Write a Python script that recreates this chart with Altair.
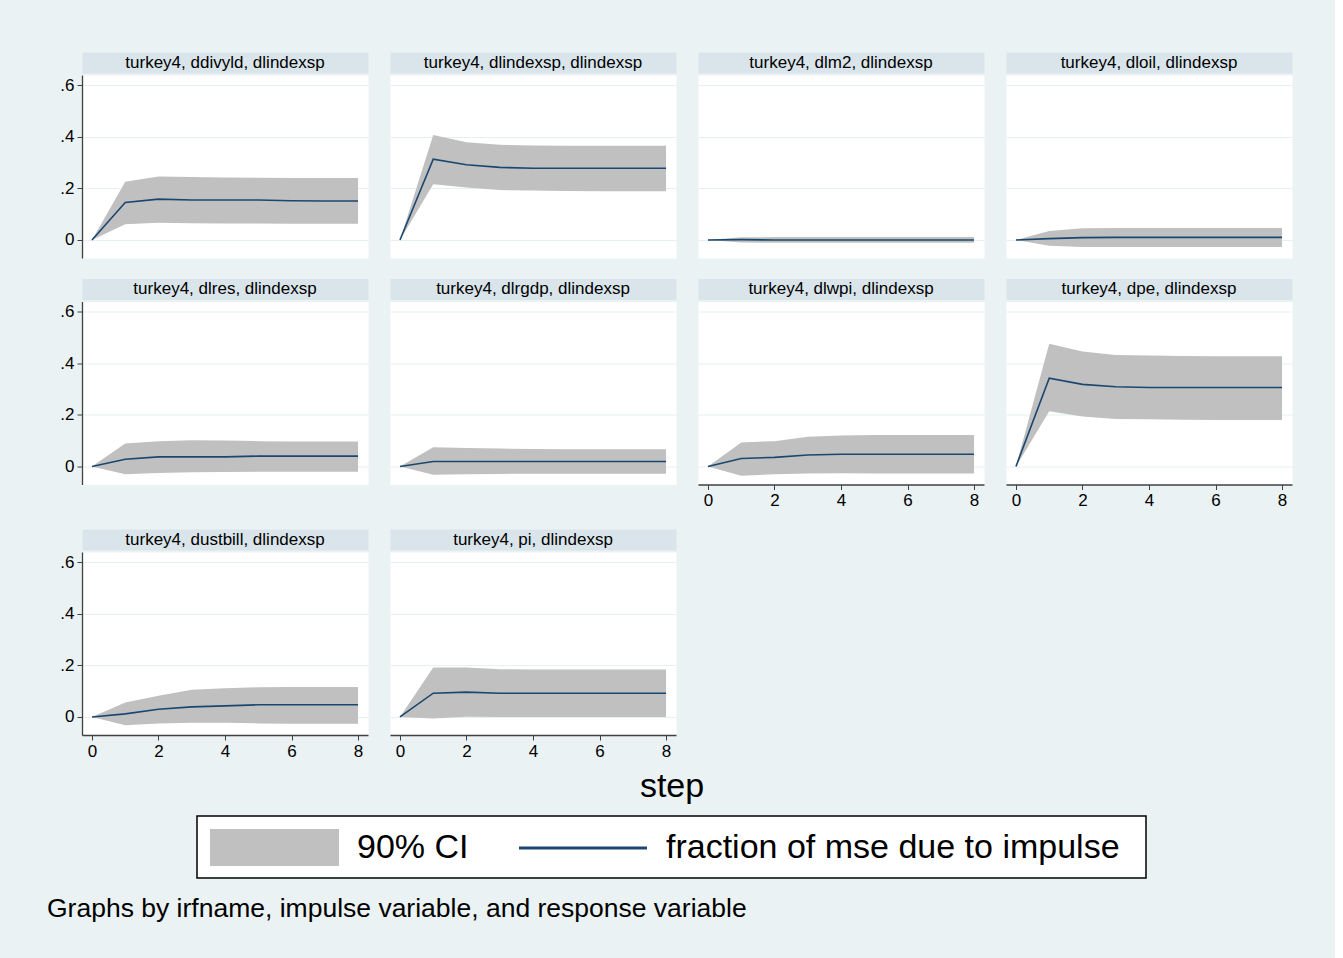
import altair as alt
import pandas as pd

FONT = "Liberation Sans"
BG = "#EAF2F3"
STRIP = "#D9E5EA"
GRID = "#E6EFF1"
CI_GRAY = "#C0C0C0"
NAVY = "#1A476F"
AXIS_DARK = "#404040"

STEPS = [0, 1, 2, 3, 4, 5, 6, 7, 8]

PANEL_TITLES = [
    "turkey4, ddivyld, dlindexsp",
    "turkey4, dlindexsp, dlindexsp",
    "turkey4, dlm2, dlindexsp",
    "turkey4, dloil, dlindexsp",
    "turkey4, dlres, dlindexsp",
    "turkey4, dlrgdp, dlindexsp",
    "turkey4, dlwpi, dlindexsp",
    "turkey4, dpe, dlindexsp",
    "turkey4, dustbill, dlindexsp",
    "turkey4, pi, dlindexsp",
]

# fraction of mse due to impulse, with 90% CI bounds
ddivyld_fev = [0, 0.145, 0.158, 0.155, 0.155, 0.155, 0.152, 0.151, 0.151]
ddivyld_lo = [0, 0.061, 0.067, 0.065, 0.064, 0.064, 0.063, 0.063, 0.063]
ddivyld_hi = [0, 0.225, 0.246, 0.244, 0.242, 0.241, 0.240, 0.240, 0.240]

dlindexsp_fev = [0, 0.313, 0.291, 0.281, 0.278, 0.278, 0.278, 0.278, 0.278]
dlindexsp_lo = [0, 0.216, 0.203, 0.193, 0.192, 0.190, 0.189, 0.189, 0.189]
dlindexsp_hi = [0, 0.407, 0.378, 0.369, 0.366, 0.365, 0.365, 0.365, 0.365]

dlm2_fev = [0, 0.001, 0.000, 0.000, 0.000, 0.000, 0.000, 0.000, 0.000]
dlm2_lo = [0, -0.010, -0.011, -0.011, -0.011, -0.011, -0.011, -0.011, -0.011]
dlm2_hi = [0, 0.010, 0.011, 0.011, 0.011, 0.011, 0.011, 0.011, 0.011]

dloil_fev = [0, 0.005, 0.009, 0.010, 0.010, 0.010, 0.010, 0.010, 0.010]
dloil_lo = [0, -0.023, -0.027, -0.027, -0.027, -0.027, -0.027, -0.027, -0.027]
dloil_hi = [0, 0.035, 0.045, 0.046, 0.046, 0.046, 0.046, 0.046, 0.046]

dlres_fev = [0, 0.028, 0.037, 0.037, 0.037, 0.040, 0.040, 0.040, 0.040]
dlres_lo = [0, -0.030, -0.025, -0.023, -0.022, -0.021, -0.021, -0.021, -0.021]
dlres_hi = [0, 0.089, 0.098, 0.101, 0.100, 0.098, 0.097, 0.097, 0.097]

dlrgdp_fev = [0, 0.019, 0.019, 0.019, 0.019, 0.019, 0.019, 0.019, 0.019]
dlrgdp_lo = [0, -0.032, -0.030, -0.029, -0.028, -0.028, -0.028, -0.028, -0.028]
dlrgdp_hi = [0, 0.074, 0.071, 0.069, 0.068, 0.067, 0.067, 0.067, 0.067]

dlwpi_fev = [0, 0.031, 0.035, 0.044, 0.047, 0.047, 0.047, 0.047, 0.047]
dlwpi_lo = [0, -0.036, -0.030, -0.027, -0.026, -0.027, -0.027, -0.027, -0.027]
dlwpi_hi = [0, 0.093, 0.098, 0.115, 0.120, 0.122, 0.122, 0.122, 0.122]

dpe_fev = [0, 0.342, 0.318, 0.309, 0.306, 0.306, 0.306, 0.306, 0.306]
dpe_lo = [0, 0.214, 0.193, 0.184, 0.183, 0.181, 0.180, 0.180, 0.180]
dpe_hi = [0, 0.475, 0.445, 0.432, 0.430, 0.428, 0.427, 0.427, 0.427]

dustbill_fev = [0, 0.012, 0.030, 0.039, 0.043, 0.047, 0.047, 0.047, 0.047]
dustbill_lo = [0, -0.032, -0.025, -0.023, -0.023, -0.025, -0.026, -0.026, -0.026]
dustbill_hi = [0, 0.056, 0.082, 0.105, 0.111, 0.115, 0.116, 0.116, 0.116]

pi_fev = [0, 0.092, 0.096, 0.092, 0.092, 0.092, 0.092, 0.092, 0.092]
pi_lo = [0, -0.006, 0.001, 0.000, 0.000, 0.000, 0.000, 0.000, 0.000]
pi_hi = [0, 0.192, 0.192, 0.185, 0.184, 0.184, 0.184, 0.184, 0.184]

Y_TICKS = [0, 0.2, 0.4, 0.6]
X_TICKS = [0, 2, 4, 6, 8]
Y_DOMAIN = [-0.07, 0.639]
X_DOMAIN = [-0.3, 8.3]

LEGEND_LABELS = ["90% CI", "fraction of mse due to impulse"]
X_TITLE = "step"
NOTE = "Graphs by irfname, impulse variable, and response variable"

SERIES = [
    (ddivyld_fev, ddivyld_lo, ddivyld_hi),
    (dlindexsp_fev, dlindexsp_lo, dlindexsp_hi),
    (dlm2_fev, dlm2_lo, dlm2_hi),
    (dloil_fev, dloil_lo, dloil_hi),
    (dlres_fev, dlres_lo, dlres_hi),
    (dlrgdp_fev, dlrgdp_lo, dlrgdp_hi),
    (dlwpi_fev, dlwpi_lo, dlwpi_hi),
    (dpe_fev, dpe_lo, dpe_hi),
    (dustbill_fev, dustbill_lo, dustbill_hi),
    (pi_fev, pi_lo, pi_hi),
]

PW, PH, HH = 286, 183, 21


def make_panel(i):
    title = PANEL_TITLES[i]
    fev, lo, hi = SERIES[i]
    col = i % 4
    show_y = col == 0
    show_x = i in (6, 7, 8, 9)

    df = pd.DataFrame({"step": STEPS, "fev": fev, "lo": lo, "hi": hi})

    if show_y:
        yaxis = alt.Axis(
            values=Y_TICKS, grid=True, gridColor=GRID, gridWidth=1.2,
            domain=True, domainColor=AXIS_DARK, domainWidth=1.3,
            ticks=True, tickColor=AXIS_DARK, tickSize=5, tickWidth=1,
            labelFont=FONT, labelFontSize=17, labelColor="black", labelPadding=3,
            labelExpr="datum.value == 0 ? '0' : replace(format(datum.value, '.1f'), '0.', '.')",
        )
    else:
        yaxis = alt.Axis(values=Y_TICKS, grid=True, gridColor=GRID, gridWidth=1.2,
                         domain=False, ticks=False, labels=False)

    if show_x:
        xaxis = alt.Axis(
            values=X_TICKS, grid=False, domain=True, domainColor=AXIS_DARK, domainWidth=1.3,
            ticks=True, tickColor=AXIS_DARK, tickSize=5, tickWidth=1,
            labelFont=FONT, labelFontSize=17, labelColor="black", labelPadding=3,
            labelFlush=False,
        )
        xenc = alt.X("step:Q", scale=alt.Scale(domain=X_DOMAIN, nice=False, zero=False),
                     axis=xaxis, title=None)
    else:
        xenc = alt.X("step:Q", scale=alt.Scale(domain=X_DOMAIN, nice=False, zero=False),
                     axis=None)

    base = alt.Chart(df).encode(x=xenc)
    area = base.mark_area(color=CI_GRAY, opacity=1).encode(
        y=alt.Y("lo:Q", scale=alt.Scale(domain=Y_DOMAIN, nice=False, zero=False),
                axis=yaxis, title=None),
        y2="hi:Q",
    )
    line = base.mark_line(color=NAVY, strokeWidth=1.6).encode(
        y=alt.Y("fev:Q", title=None)
    )
    plot = alt.layer(area, line).properties(
        width=PW, height=PH,
        view=alt.ViewBackground(fill="white", stroke="transparent"),
    )

    header = alt.Chart(pd.DataFrame({"t": [title]})).mark_text(
        font=FONT, fontSize=17, color="black", baseline="middle"
    ).encode(text="t:N").properties(
        width=PW, height=HH,
        view=alt.ViewBackground(fill=STRIP, stroke="transparent"),
    )
    return alt.vconcat(header, plot, spacing=0)


panels = [make_panel(i) for i in range(len(PANEL_TITLES))]
row1 = alt.hconcat(*panels[0:4], spacing=20)
row2 = alt.hconcat(*panels[4:8], spacing=20)
row3 = alt.hconcat(*panels[8:10], spacing=20)
grid = alt.vconcat(row1, row2, row3, spacing=18.5)

# bottom: axis title, legend box, note (positions relative to first plot's left edge)
one = pd.DataFrame({"k": [0]})
bw, bh = 1210, 199
step_txt = alt.Chart(one).mark_text(font=FONT, fontSize=34, color="black",
                                    align="center", baseline="alphabetic").encode(
    x=alt.value(590), y=alt.value(36), text=alt.value(X_TITLE))
box = alt.Chart(one).mark_rect(fill="white", stroke="black", strokeWidth=1.5).encode(
    x=alt.value(115), x2=alt.value(1064), y=alt.value(55), y2=alt.value(117))
swatch = alt.Chart(one).mark_rect(fill=CI_GRAY).encode(
    x=alt.value(128), x2=alt.value(257), y=alt.value(68), y2=alt.value(105))
lab1 = alt.Chart(one).mark_text(font=FONT, fontSize=34, color="black",
                                align="left", baseline="middle").encode(
    x=alt.value(275), y=alt.value(87), text=alt.value(LEGEND_LABELS[0]))
sw_line = alt.Chart(one).mark_rule(color=NAVY, strokeWidth=3).encode(
    x=alt.value(437), x2=alt.value(565), y=alt.value(87))
lab2 = alt.Chart(one).mark_text(font=FONT, fontSize=34, color="black",
                                align="left", baseline="middle").encode(
    x=alt.value(584), y=alt.value(87), text=alt.value(LEGEND_LABELS[1]))
note = alt.Chart(one).mark_text(font=FONT, fontSize=26.5, color="black",
                                align="left", baseline="middle").encode(
    x=alt.value(-35), y=alt.value(148), text=alt.value(NOTE))
bottom = alt.layer(step_txt, box, swatch, lab1, sw_line, lab2, note).properties(
    width=bw, height=bh,
    view=alt.ViewBackground(fill="transparent", stroke="transparent"),
)

chart = alt.vconcat(grid, bottom, spacing=0).properties(
    background=BG,
    padding={"left": 46, "top": 51, "right": 42, "bottom": 0},
)

chart.save("out.html", embed_options={"renderer": "svg", "actions": False})
